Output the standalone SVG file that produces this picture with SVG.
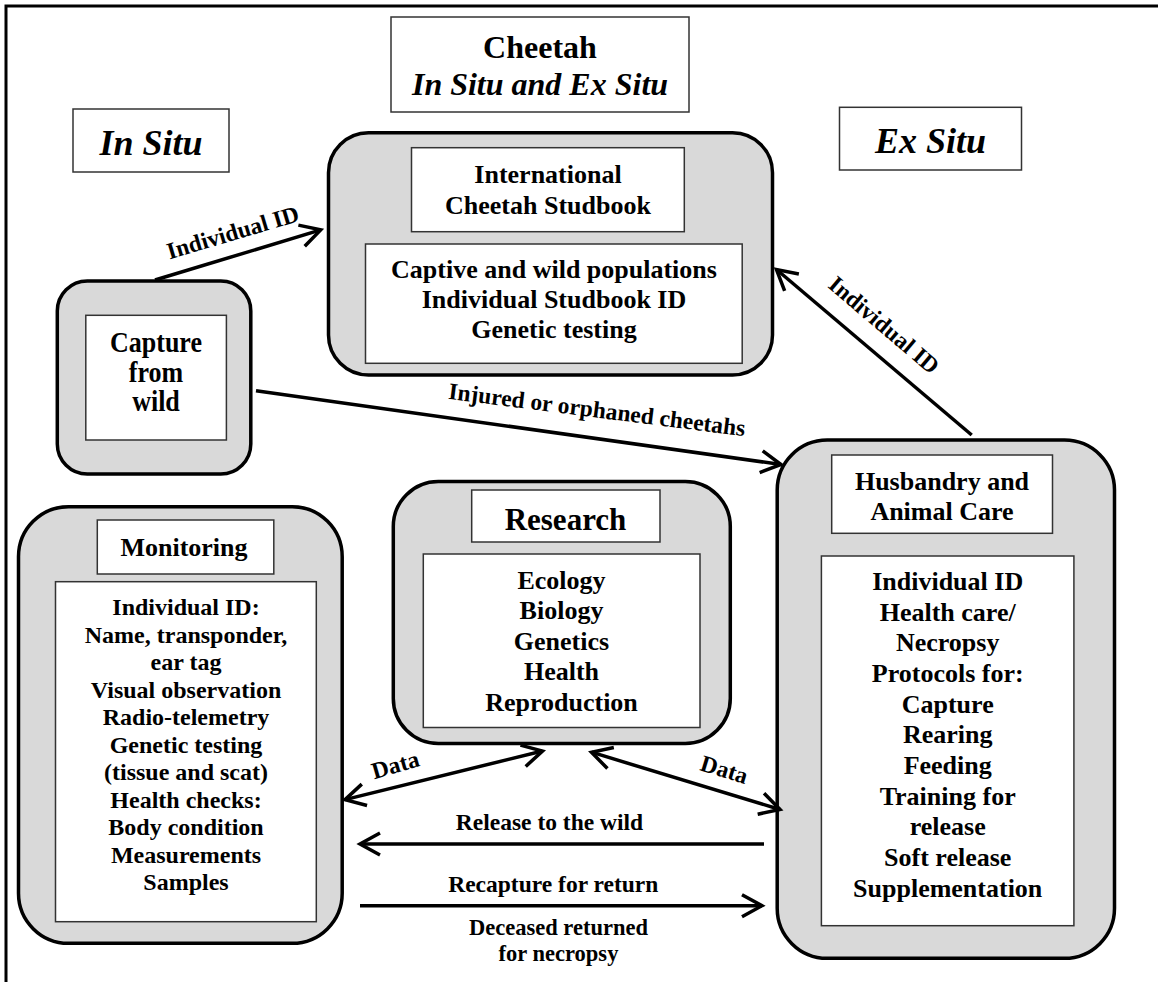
<svg xmlns="http://www.w3.org/2000/svg" width="1158" height="982" viewBox="0 0 1158 982">
<style>
text{font-family:"Liberation Serif","Times New Roman",serif;font-weight:bold;fill:#000;text-anchor:middle}
.t26{font-size:26px}
.t24{font-size:24px}
.lbl{font-size:23.5px}
.sm{font-size:22.5px}
.it{font-style:italic}
.cont{fill:#d9d9d9;stroke:#000;stroke-width:3.5}
.box{fill:#fff;stroke:#333;stroke-width:1.5}
.con{fill:none;stroke:#000;stroke-width:3.5}
</style>
<defs>
<marker id="ah" markerUnits="userSpaceOnUse" markerWidth="40" markerHeight="40" viewBox="-25 -20 40 40" refX="0" refY="0" orient="auto-start-reverse" overflow="visible">
<path d="M-20,-11 L0,0 L-20,11" fill="none" stroke="#000" stroke-width="3.5" stroke-linejoin="miter"/>
</marker>
</defs>
<path d="M6,982 V6 H1158" fill="none" stroke="#000" stroke-width="3"/>

<g id="title">
<rect class="box" x="391" y="17" width="298" height="95"/>
<text x="540" y="58" style="font-size:32px">Cheetah</text>
<text class="it" x="540" y="95" style="font-size:32px">In Situ and Ex Situ</text>
</g>

<g id="in-situ">
<rect class="box" x="73" y="109" width="156" height="63"/>
<text class="it" x="151" y="155" style="font-size:36px">In Situ</text>
</g>

<g id="ex-situ">
<rect class="box" x="839.5" y="107.3" width="182" height="62.7"/>
<text class="it" x="930.5" y="153" style="font-size:36px">Ex Situ</text>
</g>

<g id="studbook">
<rect class="cont" x="328.5" y="132.7" width="444" height="242.3" rx="40"/>
<rect class="box" x="411.5" y="147.7" width="272.8" height="84"/>
<text class="t26" x="548" y="183">International</text>
<text class="t26" x="548" y="214">Cheetah Studbook</text>
<rect class="box" x="365.5" y="244" width="376.7" height="119.3"/>
<text class="t26" x="554" y="278">Captive and wild populations</text>
<text class="t26" x="554" y="308">Individual Studbook ID</text>
<text class="t26" x="554" y="338">Genetic testing</text>
</g>

<g id="capture">
<rect class="cont" x="57.3" y="281" width="193.5" height="193" rx="30"/>
<rect class="box" x="85.8" y="315.3" width="140.6" height="124.7"/>
<text class="t26" x="156" y="351.7" transform="matrix(1 0 0 1.15 0 -52.755)">Capture</text>
<text class="t26" x="156" y="381.7" transform="matrix(1 0 0 1.15 0 -57.255)">from</text>
<text class="t26" x="156" y="410.7" transform="matrix(1 0 0 1.15 0 -61.605)">wild</text>
</g>

<g id="monitoring">
<rect class="cont" x="18.5" y="506.7" width="323.7" height="436.6" rx="50"/>
<rect class="box" x="97.3" y="520" width="176.5" height="54"/>
<text class="t26" x="184" y="556">Monitoring</text>
<rect class="box" x="55.5" y="581.7" width="260.8" height="340"/>
<text class="t24" x="186" y="615">Individual ID:</text>
<text class="t24" x="186" y="642.5">Name, transponder,</text>
<text class="t24" x="186" y="670">ear tag</text>
<text class="t24" x="186" y="697.5">Visual observation</text>
<text class="t24" x="186" y="725">Radio-telemetry</text>
<text class="t24" x="186" y="752.5">Genetic testing</text>
<text class="t24" x="186" y="780">(tissue and scat)</text>
<text class="t24" x="186" y="807.5">Health checks:</text>
<text class="t24" x="186" y="835">Body condition</text>
<text class="t24" x="186" y="862.5">Measurements</text>
<text class="t24" x="186" y="890">Samples</text>
</g>

<g id="research">
<rect class="cont" x="393.3" y="481.5" width="337" height="262" rx="45"/>
<rect class="box" x="471.7" y="490" width="188.3" height="52"/>
<text x="565.5" y="530" style="font-size:31px">Research</text>
<rect class="box" x="423.3" y="554" width="276.7" height="173.5"/>
<text class="t26" x="561.5" y="588.5">Ecology</text>
<text class="t26" x="561.5" y="619">Biology</text>
<text class="t26" x="561.5" y="649.5">Genetics</text>
<text class="t26" x="561.5" y="680">Health</text>
<text class="t26" x="561.5" y="710.5">Reproduction</text>
</g>

<g id="husbandry">
<rect class="cont" x="777.2" y="440" width="337.3" height="518.3" rx="50"/>
<rect class="box" x="831.7" y="455" width="220.8" height="78.3"/>
<text class="t26" x="942" y="489.5">Husbandry and</text>
<text class="t26" x="942" y="520">Animal Care</text>
<rect class="box" x="821.4" y="556" width="252.5" height="369.7"/>
<text class="t26" x="947.7" y="590">Individual ID</text>
<text class="t26" x="947.7" y="620.7">Health care/</text>
<text class="t26" x="947.7" y="651.3">Necropsy</text>
<text class="t26" x="947.7" y="682">Protocols for:</text>
<text class="t26" x="947.7" y="712.7">Capture</text>
<text class="t26" x="947.7" y="743.3">Rearing</text>
<text class="t26" x="947.7" y="774">Feeding</text>
<text class="t26" x="947.7" y="804.7">Training for</text>
<text class="t26" x="947.7" y="835.3">release</text>
<text class="t26" x="947.7" y="866">Soft release</text>
<text class="t26" x="947.7" y="896.7">Supplementation</text>
</g>

<g id="connectors">
<line class="con" x1="155" y1="280" x2="320.7" y2="229.9" marker-end="url(#ah)"/>
<line class="con" x1="256" y1="390.7" x2="781" y2="464.5" marker-end="url(#ah)"/>
<line class="con" x1="971.7" y1="435" x2="776.5" y2="269.5" marker-end="url(#ah)"/>
<line class="con" x1="345" y1="799.6" x2="542.5" y2="751" marker-start="url(#ah)" marker-end="url(#ah)"/>
<line class="con" x1="591.5" y1="752.2" x2="780" y2="809.5" marker-start="url(#ah)" marker-end="url(#ah)"/>
<line class="con" x1="764" y1="844" x2="360" y2="844" marker-end="url(#ah)"/>
<line class="con" x1="360" y1="905.7" x2="762" y2="905.7" marker-end="url(#ah)"/>
<text class="lbl" transform="translate(235,240) rotate(-16.5)">Individual ID</text>
<text class="lbl" transform="translate(596,417.5) rotate(7.2)">Injured or orphaned cheetahs</text>
<text class="lbl" transform="translate(879,331) rotate(40.3)">Individual ID</text>
<text class="lbl" transform="translate(397.5,772.5) rotate(-16)">Data</text>
<text class="lbl" transform="translate(722,777) rotate(17)">Data</text>
<text class="lbl" x="549.5" y="830">Release to the wild</text>
<text class="lbl" x="553.3" y="891.7">Recapture for return</text>
<text class="sm" x="558.5" y="935">Deceased returned</text>
<text class="sm" x="558.5" y="960.5">for necropsy</text>
</g>
</svg>
